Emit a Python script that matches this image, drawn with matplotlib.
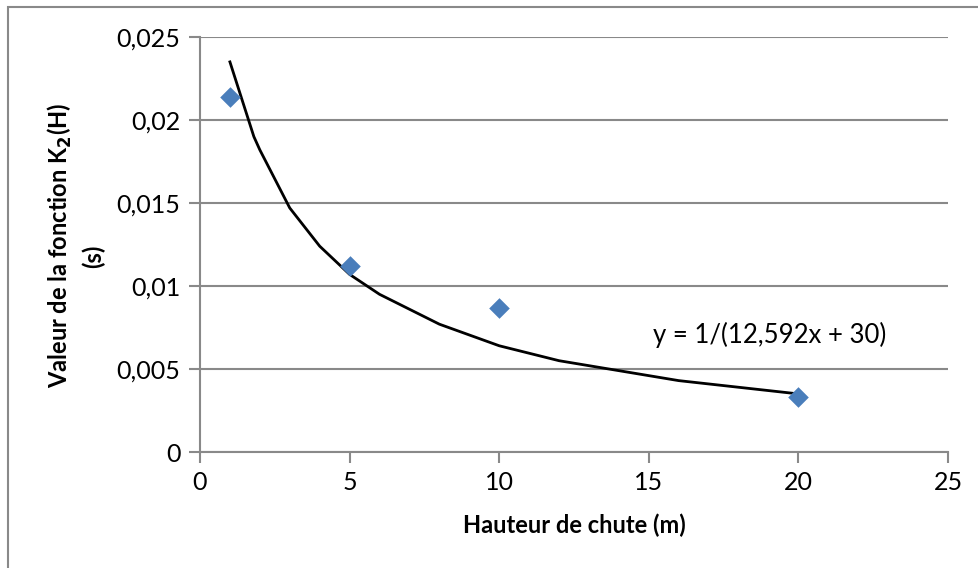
import matplotlib.pyplot as plt
from matplotlib.patches import Rectangle
from matplotlib.ticker import FuncFormatter

# measured points
hauteur = [1, 5, 10, 20]
k2 = [0.0214, 0.0112, 0.0087, 0.0033]

# trend curve, as drawn (polyline of Excel samples)
trend_x = [1, 1.8, 2, 3, 4, 5, 6, 8, 10, 12, 14, 16, 18, 20]
trend_y = [0.0235, 0.0190, 0.0182, 0.0147, 0.0124, 0.0107, 0.0095, 0.0077, 0.0064, 0.0055, 0.0049, 0.0043, 0.0039, 0.0035]

equation = "y = 1/(12,592x + 30)"
x_ticks = [0, 5, 10, 15, 20, 25]
y_ticks = [0, 0.005, 0.01, 0.015, 0.02, 0.025]

plt.rcParams['font.family'] = ['Lato', 'DejaVu Sans']
grey = '#898989'

fig = plt.figure(figsize=(9.79, 5.68), dpi=100)
fig.patches.append(Rectangle((8 / 979, -0.1), 1.2, 1.1 - 7 / 568, transform=fig.transFigure,
                             fill=False, edgecolor=grey, linewidth=1.5))
ax = fig.add_axes([200 / 979, 1 - 452 / 568, 748 / 979, 415 / 568])

ax.plot(trend_x, trend_y, color='black', linewidth=2, zorder=3)
ax.scatter(hauteur, k2, marker='D', s=110, color='#4a7ebb', zorder=4, linewidths=0)

ax.set_xlim(0, 25)
ax.set_ylim(0, 0.025)
ax.set_xticks(x_ticks)
ax.set_yticks(y_ticks)
ax.xaxis.set_major_formatter(FuncFormatter(lambda v, p: f"{v:g}"))
ax.yaxis.set_major_formatter(FuncFormatter(lambda v, p: f"{v:g}".replace('.', ',')))
ax.grid(axis='y', color=grey, linewidth=1.5)
ax.set_axisbelow(True)
for side in ['top', 'right']:
    ax.spines[side].set_visible(False)
for side in ['left', 'bottom']:
    ax.spines[side].set_color(grey)
    ax.spines[side].set_linewidth(1.5)
ax.tick_params(length=8, width=1.5, color=grey, labelsize=18, pad=6)

ax.set_xlabel("Hauteur de chute (m)", fontsize=17, fontweight='bold', labelpad=14)
# y label in two lines, placed by hand (Excel-like tight line spacing)
fig.text(60 / 979, 1 - 245 / 568, "Valeur de la fonction K$_\\mathbf{2}$(H)", rotation=90,
         fontsize=17, fontweight='bold', ha='center', va='center')
fig.text(93 / 979, 1 - 256 / 568, "(s)", rotation=90,
         fontsize=17, fontweight='bold', ha='center', va='center')
ax.text(15.15, 0.00705, equation, fontsize=18.5, va='center', ha='left')

fig.savefig("out.png", dpi=100)
